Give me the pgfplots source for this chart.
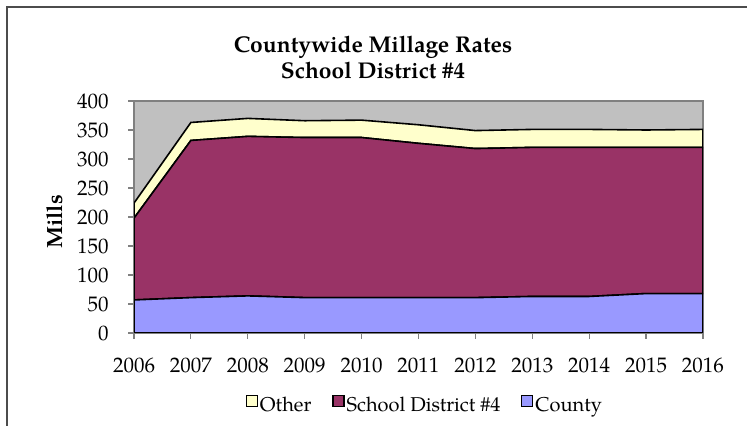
\documentclass[border=0pt]{standalone}
\usepackage{pgfplots}
\pgfplotsset{compat=1.18}
\usepackage{fontspec}
\setmainfont{TeX Gyre Pagella}
\definecolor{bggray}{HTML}{C0C0C0}
\definecolor{cother}{HTML}{FFFFCC}
\definecolor{csd}{HTML}{993366}
\definecolor{ccounty}{HTML}{9999FF}
\definecolor{axgray}{HTML}{808080}
\begin{document}
\begin{tikzpicture}
\useasboundingbox (0pt,0pt) rectangle (373.5pt,213pt);
\draw[color=black!70, line width=0.8pt] (3.5pt,0pt) -- (3.5pt,209.5pt) -- (373.5pt,209.5pt);
\node[align=center, font=\fontsize{11.4}{13}\selectfont\bfseries] at (186.5pt,184.5pt) {Countywide Millage Rates\\School District \#4};
\begin{axis}[
  at={(67pt,46.5pt)}, anchor=south west,
  scale only axis, width=284.5pt, height=116pt,
  xmin=2006, xmax=2016, ymin=0, ymax=400,
  xtick={2006,...,2016}, ytick={0,50,...,400},
  stack plots=y,
  axis background/.style={fill=bggray},
  axis line style={draw=axgray, line width=0.6pt},
  tick style={draw=axgray, line width=0.6pt},
  tick align=outside, major tick length=3pt,
  xtick pos=bottom, ytick pos=left,
  x tick label style={/pgf/number format/1000 sep={}, anchor=center, inner sep=0pt, yshift=-13pt},
  y tick label style={anchor=east, inner sep=0pt, xshift=-9.5pt},
  /pgf/number format/assume math mode=true,
  tick label style={font=\fontsize{10.5}{12}\selectfont},
  ylabel={\bfseries Mills},
  ylabel style={font=\fontsize{11}{13}\selectfont, at={(axis description cs:-0.139,0.478)}, anchor=center},
  every axis plot/.append style={draw=black, line width=0.8pt},
  reverse legend,
  legend style={at={(0.511,-0.315)}, anchor=center, draw=none, fill=none,
    font=\fontsize{10}{12}\selectfont, legend columns=3,
    /tikz/every odd column/.append style={column sep=0pt},
    /tikz/every even column/.append style={column sep=9.5pt},
    nodes={inner xsep=1pt}},
  legend image code/.code={\draw[#1, line width=0.6pt] (0pt,-0.3pt) rectangle (5.5pt,5.2pt);},
  legend cell align=left,
]
\addplot[fill=ccounty] coordinates {(2006,57) (2007,61) (2008,64) (2009,61) (2010,61) (2011,61) (2012,61) (2013,63) (2014,63) (2015,68) (2016,68)} \closedcycle;
\addplot[fill=csd] coordinates {(2006,141) (2007,271) (2008,275) (2009,276) (2010,276) (2011,266) (2012,257) (2013,257) (2014,257) (2015,252) (2016,252)} \closedcycle;
\addplot[fill=cother] coordinates {(2006,26) (2007,31) (2008,31) (2009,29) (2010,30) (2011,32) (2012,31) (2013,31) (2014,31) (2015,30) (2016,31)} \closedcycle;
\legend{County, School District \#4, Other}
\end{axis}
\end{tikzpicture}
\end{document}
